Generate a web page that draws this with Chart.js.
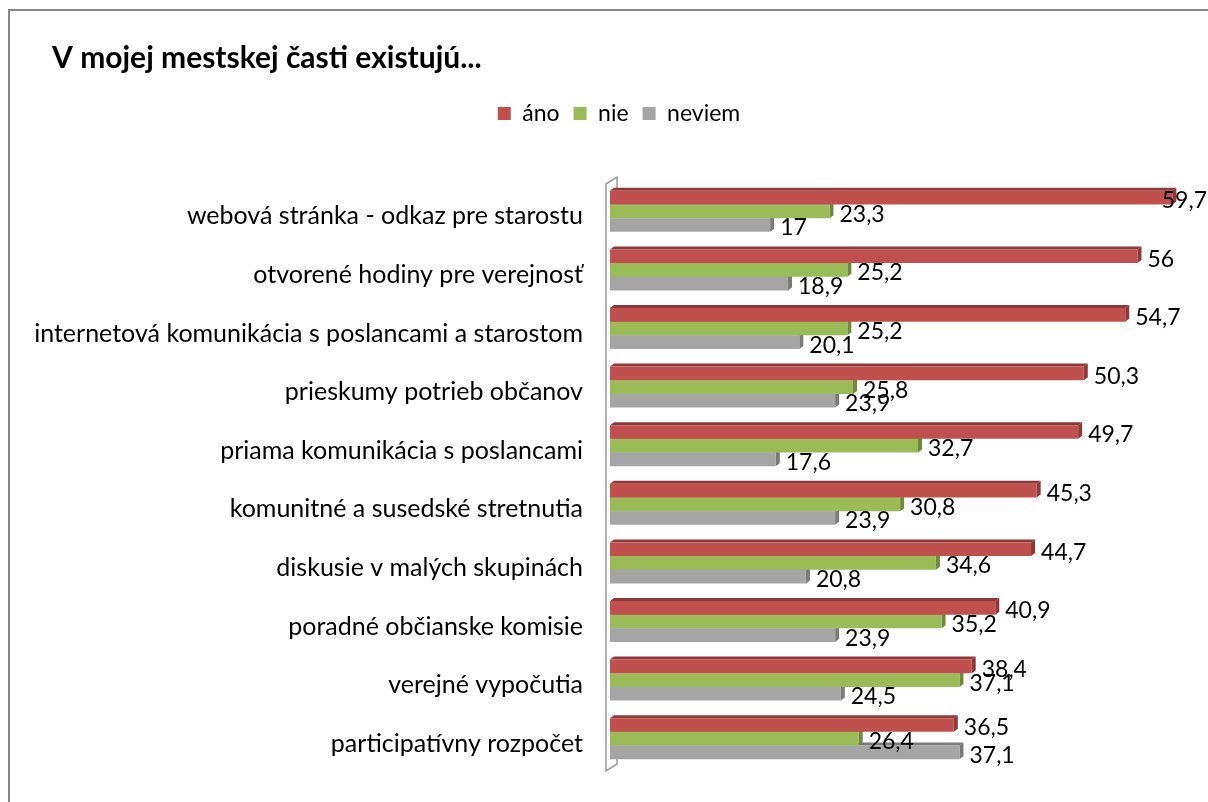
<!DOCTYPE html>
<html>
<head>
<meta charset="utf-8">
<script src="https://cdn.jsdelivr.net/npm/chart.js@4"></script>
<style>
  body { margin: 0; background: #fff; }
  canvas { display: block; }
</style>
</head>
<body>
<canvas id="chart" width="1208" height="802"></canvas>
<script>
"use strict"

var categories = [
    'webová stránka - odkaz pre starostu',
    'otvorené hodiny pre verejnosť',
    'internetová komunikácia s poslancami a starostom',
    'prieskumy potrieb občanov',
    'priama komunikácia s poslancami',
    'komunitné a susedské stretnutia',
    'diskusie v malých skupinách',
    'poradné občianske komisie',
    'verejné vypočutia',
    'participatívny rozpočet'
];
var ano = [59.7, 56, 54.7, 50.3, 49.7, 45.3, 44.7, 40.9, 38.4, 36.5];
var nie = [23.3, 25.2, 25.2, 25.8, 32.7, 30.8, 34.6, 35.2, 37.1, 26.4];
var neviem = [17, 18.9, 20.1, 23.9, 17.6, 23.9, 20.8, 23.9, 24.5, 37.1];

var FONT = "Lato, 'Open Sans', sans-serif";

// tmavšie odtiene pre 3D steny
var darker = {
    '#C0504D': '#8E3a38',
    '#9BBB59': '#6F8A3C',
    '#A5A5A5': '#7A7A7A'
};

// ramik okolo grafu
var framePlugin = {
    id: 'frame',
    beforeDraw: function (chart) {
        var ctx = chart.ctx;
        ctx.save();
        ctx.fillStyle = '#fff';
        ctx.fillRect(0, 0, chart.width, chart.height);
        ctx.strokeStyle = '#878787';
        ctx.lineWidth = 2;
        ctx.strokeRect(9, 10, chart.width + 20, chart.height + 20);
        ctx.restore();
    },
    afterLayout: function (chart) {
        // titulok zacina pri x=52, legenda trochu vpravo
        if (chart.titleBlock) chart.titleBlock.left += 52;
        if (chart.legend) chart.legend.left += 44;
    }
};

// zadna stena + 3D hrany stlpcov
var depthPlugin = {
    id: 'depth',
    beforeDatasetsDraw: function (chart) {
        var ctx = chart.ctx;
        var a = chart.chartArea;
        ctx.save();
        // stena osi
        ctx.strokeStyle = '#9a9a9a';
        ctx.lineWidth = 1.5;
        ctx.beginPath();
        ctx.moveTo(a.left + 7, a.top + 8);
        ctx.lineTo(a.left + 7, a.top - 5);
        ctx.lineTo(a.left - 4, a.top + 2);
        ctx.lineTo(a.left - 4, a.bottom + 3);
        ctx.lineTo(a.left + 7, a.bottom - 4);
        ctx.lineTo(a.left + 7, a.bottom - 12);
        ctx.stroke();

        var dx = 4, dy = 3;
        chart.data.datasets.forEach(function (ds, i) {
            var meta = chart.getDatasetMeta(i);
            meta.data.forEach(function (bar) {
                var p = bar.getProps(['x', 'y', 'base', 'height'], true);
                var t = p.y - p.height / 2, b = p.y + p.height / 2;
                ctx.fillStyle = darker[ds.backgroundColor];
                // horna plocha
                ctx.beginPath();
                ctx.moveTo(p.base, t);
                ctx.lineTo(p.base + dx, t - dy);
                ctx.lineTo(p.x + dx, t - dy);
                ctx.lineTo(p.x, t);
                ctx.closePath();
                ctx.fill();
                // bocna plocha
                ctx.beginPath();
                ctx.moveTo(p.x, t);
                ctx.lineTo(p.x + dx, t - dy);
                ctx.lineTo(p.x + dx, b - dy);
                ctx.lineTo(p.x, b);
                ctx.closePath();
                ctx.fill();
            });
        });
        ctx.restore();
    },
    afterDatasetsDraw: function (chart) {
        // popisky hodnot
        var ctx = chart.ctx;
        ctx.save();
        ctx.font = '23px ' + FONT;
        ctx.fillStyle = '#000';
        ctx.textAlign = 'left';
        ctx.textBaseline = 'middle';
        chart.data.datasets.forEach(function (ds, i) {
            var meta = chart.getDatasetMeta(i);
            meta.data.forEach(function (bar, k) {
                var txt = String(ds.data[k]).replace('.', ',');
                var w = ctx.measureText(txt).width;
                var x = Math.min(bar.x + 10, chart.width - w - 1);
                ctx.fillText(txt, x, bar.y + 3);
            });
        });
        ctx.restore();
    }
};

const data = {
    labels: categories,
    datasets: [
        { label: 'áno', data: ano, backgroundColor: '#C0504D' },
        { label: 'nie', data: nie, backgroundColor: '#9BBB59' },
        { label: 'neviem', data: neviem, backgroundColor: '#A5A5A5' }
    ]
};

const config = {
    type: 'bar',
    data: data,
    options: {
        indexAxis: 'y',
        responsive: false,
        animation: false,
        categoryPercentage: 0.7,
        barPercentage: 1,
        layout: { padding: { left: 0, right: 14, top: 0, bottom: 23 } },
        scales: {
            x: {
                position: 'top',
                min: 0,
                max: 62,
                ticks: { display: false },
                grid: { display: false },
                border: { display: false },
                afterFit: function (scale) { scale.height = 47; }
            },
            y: {
                grid: { display: false },
                border: { display: false },
                ticks: {
                    padding: 19,
                    labelOffset: 5,
                    color: '#000',
                    font: { size: 25, family: FONT }
                },
                afterFit: function (scale) { scale.width = 610; }
            }
        },
        plugins: {
            title: {
                display: true,
                text: 'V mojej mestskej časti existujú...',
                align: 'start',
                color: '#000',
                font: { size: 30, weight: 'bold', family: FONT },
                padding: { top: 40, bottom: 12 }
            },
            legend: {
                position: 'top',
                labels: {
                    boxWidth: 13,
                    boxHeight: 13,
                    color: '#000',
                    font: { size: 23, family: FONT },
                    padding: 14
                }
            },
            tooltip: { enabled: false }
        }
    },
    plugins: [framePlugin, depthPlugin]
};

var myChart = new Chart(document.getElementById('chart'), config);
</script>
</body>
</html>
